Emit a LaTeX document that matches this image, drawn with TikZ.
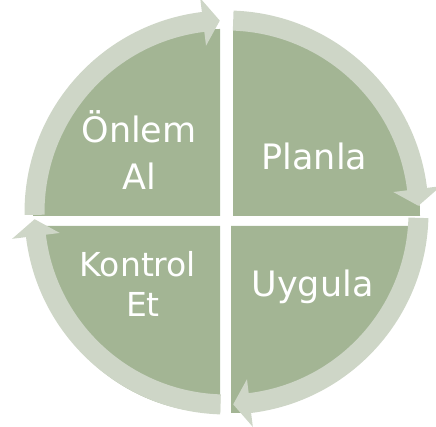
\documentclass[tikz,border=0pt]{standalone}
\usepackage{fontspec}
\newfontfamily\labelfont{DejaVu Sans}
\definecolor{sectorgreen}{RGB}{163,181,148}
\definecolor{bandgreen}{RGB}{206,214,199}
\tikzset{
  sector/.style={fill=sectorgreen},
  band/.style={fill=bandgreen},
  lbl/.style={text=white, inner sep=0pt, anchor=base, font=\labelfont\fontsize{35}{42}\selectfont},
  lblsmall/.style={lbl, font=\labelfont\fontsize{33}{40}\selectfont}
}
% #1 tail angle, #2 head base angle, #3 tip angle (clockwise)
\newcommand\cyclearrow[3]{%
  \fill[band] (#1:202) arc[start angle=#1, end angle=#2, radius=202]
    -- (#2:216) -- (#3:192) -- (#2:168) -- (#2:182)
    arc[start angle=#2, end angle=#1, radius=182] -- cycle;}
\begin{document}
\begin{tikzpicture}[x=1pt,y=1pt]
\useasboundingbox (0,0) rectangle (436,427);
\clip (0,0) rectangle (436,427);
\coordinate (C) at (226.5,214.5);
\coordinate (TL) at (220,211);
\coordinate (TR) at (233,211);
\coordinate (BL) at (220,201);
\coordinate (BR) at (231,201);
% sectors
\fill[sector] (TL) -- ++(180:187) arc[start angle=180, end angle=90, radius=187] -- cycle;
\fill[sector] (TR) -- ++(90:187) arc[start angle=90, end angle=0, radius=187] -- cycle;
\fill[sector] (BR) -- ++(0:187) arc[start angle=0, end angle=-90, radius=187] -- cycle;
\fill[sector] (BL) -- ++(-90:187) arc[start angle=-90, end angle=-180, radius=187] -- cycle;
% circular arrows
\begin{scope}[shift={(C)}]
  \cyclearrow{180.7}{97}{92}
  \cyclearrow{88}{7}{2}
  \cyclearrow{-1.6}{-83}{-88}
  \cyclearrow{-91.8}{-173}{-178}
\end{scope}
% labels
\node[lbl] (act1) at (139,284) {Önlem};
\node[lbl] (act2) at (139,237) {Al};
\node[lbl] (plan) at (314.5,257) {Planla};
\node[lbl] (do) at (312.5,130) {Uygula};
\node[lblsmall] (check1) at (138,150) {Kontrol};
\node[lblsmall] (check2) at (143,110) {Et};
\end{tikzpicture}
\end{document}
